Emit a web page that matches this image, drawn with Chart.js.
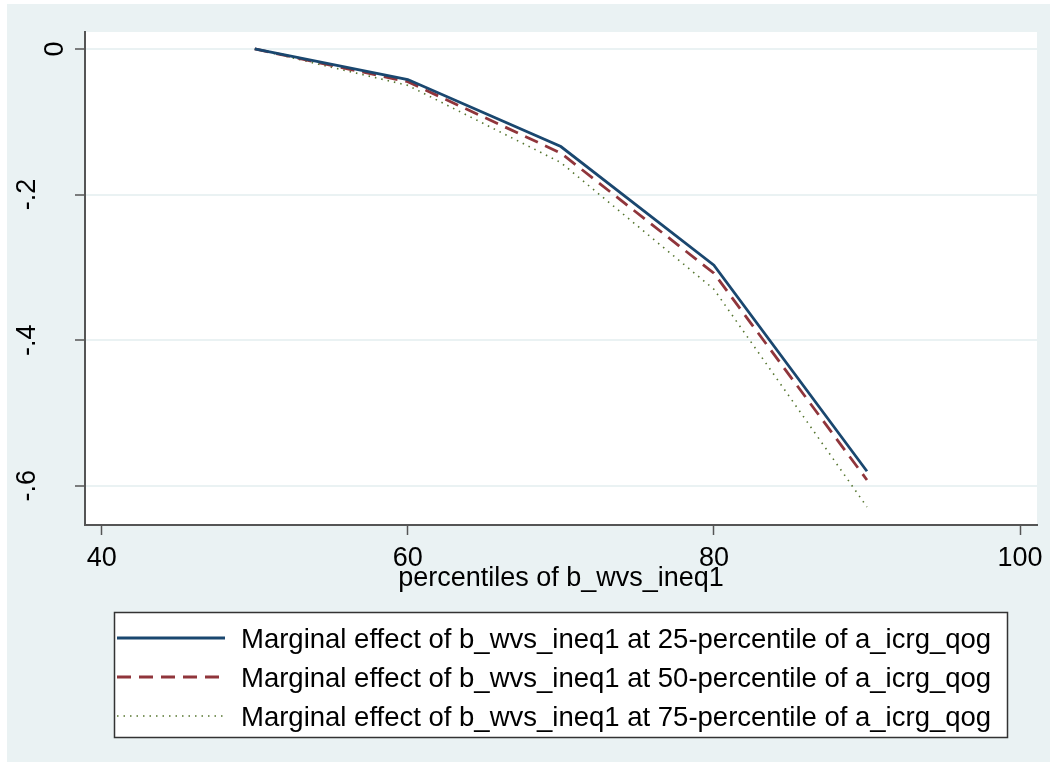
<!DOCTYPE html>
<html>
<head>
<meta charset="utf-8">
<script src="https://cdn.jsdelivr.net/npm/chart.js@4.4.1/dist/chart.umd.min.js"></script>
<style>
  html, body { margin: 0; padding: 0; background: #ffffff; }
  canvas { display: block; }
</style>
</head>
<body>
<canvas id="chart" width="1057" height="769"></canvas>
<script>
// percentiles of b_wvs_ineq1
const percentiles = [50, 60, 70, 80, 90];

// marginal effect at 25th / 50th / 75th percentile of a_icrg_qog
const effectP25 = [0, -0.042, -0.134, -0.297, -0.580];
const effectP50 = [0, -0.045, -0.143, -0.308, -0.592];
const effectP75 = [0, -0.050, -0.156, -0.330, -0.629];

const seriesLabels = [
  "Marginal effect of b_wvs_ineq1 at 25-percentile of a_icrg_qog",
  "Marginal effect of b_wvs_ineq1 at 50-percentile of a_icrg_qog",
  "Marginal effect of b_wvs_ineq1 at 75-percentile of a_icrg_qog"
];

const xTicks = [40, 60, 80, 100];
const yTicks = [0, -0.2, -0.4, -0.6];
const yTickLabels = ["0", "-.2", "-.4", "-.6"];
const xTitle = "percentiles of b_wvs_ineq1";

const FONT = "'Liberation Sans', Arial, sans-serif";
const PANEL = "#EAF2F3";
const AXIS = "#555555";

function points(ys) {
  return percentiles.map((x, i) => ({ x: x, y: ys[i] }));
}

// background panel, y labels, axis title and the boxed legend
const stataLook = {
  id: "stataLook",
  beforeDraw(chart) {
    const ctx = chart.ctx;
    const a = chart.chartArea;
    ctx.save();
    ctx.fillStyle = "#ffffff";
    ctx.fillRect(0, 0, chart.width, chart.height);
    ctx.fillStyle = PANEL;
    ctx.fillRect(7, 4, 1043, 758);
    ctx.fillStyle = "#ffffff";
    ctx.fillRect(a.left, a.top, a.right - a.left, a.bottom - a.top);
    ctx.restore();
  },
  afterDraw(chart) {
    const ctx = chart.ctx;
    const a = chart.chartArea;
    const ys = chart.scales.y;
    ctx.save();

    // rotated y tick labels
    ctx.fillStyle = "#000";
    ctx.font = "27px " + FONT;
    ctx.textAlign = "center";
    ctx.textBaseline = "alphabetic";
    yTicks.forEach((v, i) => {
      const py = ys.getPixelForValue(v);
      const base = yTickLabels[i].length > 1 ? 35 : 63;
      ctx.save();
      ctx.translate(base, py);
      ctx.rotate(-Math.PI / 2);
      ctx.fillText(yTickLabels[i], 0, 0);
      ctx.restore();
    });

    // x axis title
    ctx.textBaseline = "middle";
    ctx.fillText(xTitle, (a.left + a.right) / 2, 579);

    // legend
    const lx = 114, ly = 612, lw = 893, lh = 125;
    ctx.fillStyle = "#ffffff";
    ctx.fillRect(lx, ly, lw, lh);
    ctx.strokeStyle = "#333333";
    ctx.lineWidth = 1.5;
    ctx.strokeRect(lx + 0.5, ly + 0.5, lw, lh);

    const rows = [638, 677, 716];
    ctx.font = "27.5px " + FONT;
    chart.data.datasets.forEach((ds, i) => {
      ctx.beginPath();
      ctx.strokeStyle = ds.borderColor;
      ctx.lineWidth = ds.borderWidth;
      ctx.setLineDash(ds.borderDash || []);
      ctx.moveTo(117, rows[i]);
      ctx.lineTo(225, rows[i]);
      ctx.stroke();
      ctx.setLineDash([]);
      ctx.fillStyle = "#000";
      ctx.textAlign = "left";
      ctx.textBaseline = "middle";
      ctx.fillText(ds.label, 241, rows[i] + 2);
    });
    ctx.restore();
  }
};

new Chart(document.getElementById("chart"), {
  type: "line",
  data: {
    datasets: [
      {
        label: seriesLabels[0],
        data: points(effectP25),
        borderColor: "#1A476F",
        borderWidth: 2.8,
        pointRadius: 0,
        tension: 0
      },
      {
        label: seriesLabels[1],
        data: points(effectP50),
        borderColor: "#90353B",
        borderWidth: 2.8,
        borderDash: [14, 8],
        pointRadius: 0,
        tension: 0
      },
      {
        label: seriesLabels[2],
        data: points(effectP75),
        borderColor: "#55752F",
        borderWidth: 1.6,
        borderDash: [1.5, 5],
        pointRadius: 0,
        tension: 0
      }
    ]
  },
  options: {
    responsive: false,
    devicePixelRatio: 1,
    animation: false,
    layout: { padding: { left: 0, top: 32, right: 20, bottom: 184 } },
    plugins: { legend: { display: false }, tooltip: { enabled: false } },
    scales: {
      x: {
        type: "linear",
        min: 38.91,
        max: 101.11,
        afterBuildTicks: (s) => { s.ticks = xTicks.map((v) => ({ value: v })); },
        afterFit: (s) => { s.height = 60; },
        grid: { drawOnChartArea: false, drawTicks: true, tickLength: 10, tickColor: AXIS, tickWidth: 1.5 },
        border: { display: true, color: AXIS, width: 2 },
        ticks: {
          color: "#000",
          font: { family: FONT, size: 27 },
          padding: 7,
          maxRotation: 0,
          autoSkip: false
        }
      },
      y: {
        type: "linear",
        min: -0.6538,
        max: 0.0233,
        afterBuildTicks: (s) => { s.ticks = yTicks.map((v) => ({ value: v })); },
        afterFit: (s) => { s.width = 85; },
        grid: { color: PANEL, lineWidth: 2, drawTicks: true, tickLength: 10, tickColor: AXIS, tickWidth: 1.5 },
        border: { display: true, color: AXIS, width: 2 },
        ticks: { display: false }
      }
    }
  },
  plugins: [stataLook]
});
</script>
</body>
</html>
